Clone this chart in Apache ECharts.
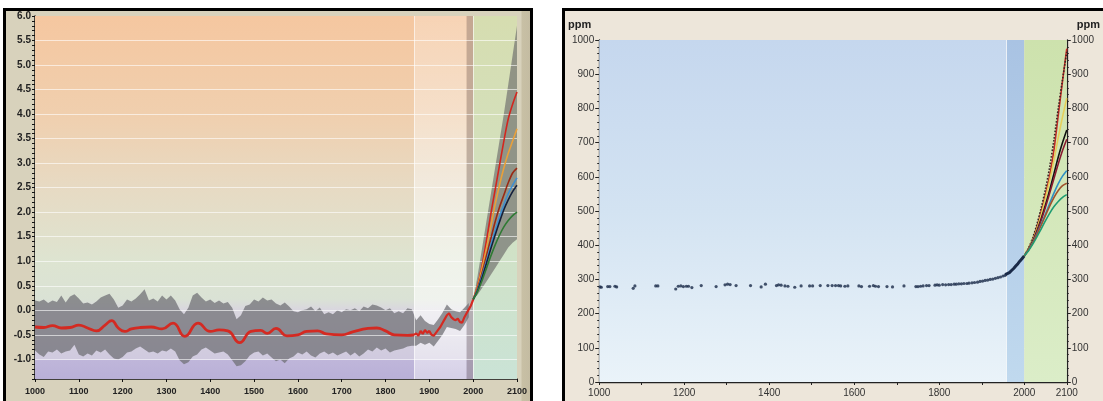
<!DOCTYPE html>
<html>
<head>
<meta charset="utf-8">
<script src="https://cdn.jsdelivr.net/npm/echarts@6/dist/echarts.min.js"></script>
<style>
  html, body { margin: 0; padding: 0; background: #fff; width: 1103px; height: 401px; overflow: hidden; position: relative; }
  #leftBox { position: absolute; left: 3px; top: 8px; width: 524px; height: 400px; border: 3px solid #000;
    background: linear-gradient(to right, #d8d2bc 0, #d8d2bc 515px, #c8c0a5 516px, #c4bca2 524px); }
  #rightBox { position: absolute; left: 562px; top: 8px; width: 548px; height: 400px; border: 3px solid #000; background: #ede6da; }
  #tempChart { width: 524px; height: 390px; }
  #co2Chart { width: 538px; height: 390px; }
</style>
</head>
<body>
<div id="leftBox"><div id="tempChart"></div></div>
<div id="rightBox"><div id="co2Chart"></div></div>
<script>
// ---------- left: temperature anomaly (°C) ----------
// reconstruction band, one value per decade from 1000 to 1990
const bandFirstYear = 1000, bandStep = 10;
const bandUpper = [
  0.20, 0.18, 0.22, 0.15, 0.20, 0.17, 0.30, 0.16, 0.28, 0.33,
  0.24, 0.14, 0.16, 0.12, 0.18, 0.26, 0.30, 0.34, 0.22, 0.05,
  0.10, 0.22, 0.18, 0.24, 0.33, 0.43, 0.20, 0.24, 0.18, 0.30,
  0.22, 0.30, 0.20, 0.02, -0.08, 0.05, 0.30, 0.36, 0.26, 0.18,
  0.22, 0.15, 0.20, 0.14, 0.17, 0.05, -0.18, -0.10, 0.09, 0.12,
  0.22, 0.18, 0.26, 0.20, 0.22, 0.14, 0.10, 0.16, 0.08, -0.02,
  -0.04, 0.00, 0.02, 0.08, -0.02, 0.06, -0.08, -0.04, -0.08, 0.00,
  -0.04, 0.02, 0.00, 0.04, -0.02, 0.08, 0.04, 0.12, 0.10, 0.06,
  0.00, 0.04, -0.06, -0.02, -0.06, 0.04, 0.02, -0.20, -0.10, -0.22,
  -0.28, -0.30, -0.18, -0.05, 0.12, 0.02, -0.02, -0.04, 0.05, 0.15
];
const bandLower = [
  -0.82, -0.90, -0.95, -0.84, -0.86, -0.80, -0.88, -0.84, -0.82, -0.70,
  -0.90, -0.94, -0.88, -0.92, -0.82, -0.86, -0.80, -0.90, -0.98, -1.00,
  -0.95, -0.86, -0.84, -0.78, -0.74, -0.80, -0.86, -0.84, -0.88, -0.82,
  -0.84, -0.78, -0.84, -1.02, -1.10, -1.06, -0.94, -0.90, -0.80, -0.76,
  -0.82, -0.88, -0.86, -0.84, -0.90, -1.02, -1.14, -1.12, -1.04, -0.92,
  -0.86, -0.84, -0.92, -0.88, -0.96, -1.04, -1.00, -1.08, -0.98, -0.94,
  -0.86, -0.90, -0.84, -0.92, -0.96, -0.88, -0.84, -0.90, -0.86, -0.92,
  -0.88, -0.84, -0.92, -0.86, -0.94, -0.88, -0.80, -0.84, -0.76, -0.82,
  -0.78, -0.86, -0.82, -0.80, -0.78, -0.74, -0.72, -0.72, -0.66, -0.70,
  -0.66, -0.74, -0.62, -0.50, -0.34, -0.36, -0.38, -0.42, -0.30, -0.14
];
// smoothed proxy reconstruction (red)
const proxyYears = [1000,1020,1040,1060,1080,1100,1120,1140,1160,1175,1190,1205,1220,1240,1265,1290,1315,1342,1372,1400,
  1420,1440,1467,1493,1515,1530,1550,1575,1600,1620,1645,1665,1700,1725,1760,1780,1800,1820,1850,1865];
const proxyTemps = [-0.34,-0.35,-0.31,-0.36,-0.35,-0.30,-0.36,-0.42,-0.30,-0.21,-0.36,-0.43,-0.38,-0.35,-0.34,-0.38,-0.26,-0.53,-0.26,-0.43,
  -0.40,-0.42,-0.66,-0.43,-0.41,-0.47,-0.37,-0.52,-0.50,-0.43,-0.42,-0.48,-0.50,-0.44,-0.37,-0.36,-0.42,-0.50,-0.51,-0.50];
// instrumental record (red, jagged)
const instYears = [1865,1870,1875,1880,1885,1890,1895,1900,1905,1910,1915,1920,1925,1930,1935,1940,1945,1950,1955,1960,1965,1970,1975,1980,1985,1990,1995,2000];
const instTemps = [-0.50,-0.47,-0.52,-0.42,-0.48,-0.40,-0.46,-0.42,-0.50,-0.52,-0.46,-0.40,-0.34,-0.26,-0.18,-0.10,-0.06,-0.14,-0.18,-0.20,-0.17,-0.24,-0.25,-0.14,-0.06,0.02,0.10,0.22];
// projections 2000-2100
const projYears = [2000,2010,2020,2030,2040,2050,2060,2070,2080,2090,2100];
const fanLower = [0.22,0.32,0.45,0.58,0.72,0.86,1.00,1.14,1.28,1.38,1.45];
const fanUpper = [0.22,0.70,1.25,1.80,2.35,2.90,3.45,4.00,4.60,5.20,5.80];
const tempScenarios = [
  { name: 'red',    color: '#d3261e', values: [0.22,0.50,0.90,1.40,1.95,2.45,2.95,3.45,3.90,4.20,4.45] },
  { name: 'orange', color: '#e9a03a', values: [0.22,0.48,0.85,1.25,1.70,2.15,2.55,2.90,3.20,3.45,3.70] },
  { name: 'brown',  color: '#9a2a14', values: [0.22,0.45,0.75,1.10,1.45,1.80,2.10,2.35,2.60,2.80,2.90] },
  { name: 'blue',   color: '#3f8fd0', values: [0.22,0.42,0.70,1.00,1.32,1.62,1.90,2.15,2.38,2.55,2.70] },
  { name: 'navy',   color: '#14203c', values: [0.22,0.40,0.66,0.95,1.25,1.53,1.80,2.05,2.25,2.42,2.55] },
  { name: 'green',  color: '#2f7a34', values: [0.22,0.38,0.60,0.85,1.10,1.33,1.53,1.70,1.83,1.93,2.00] }
];
const tempGridLevels = [-1.0,-0.5,0.0,0.5,1.0,1.5,2.0,2.5,3.0,3.5,4.0,4.5,5.0,5.5];

// ---------- right: CO2 (ppm) ----------
const co2Years = [1002,1005,1020,1025,1037,1041,1080,1084,1133,1138,1180,1186,1192,1198,1205,1210,1218,1240,1275,1296,
  1302,1308,1322,1356,1381,1391,1417,1422,1428,1437,1444,1460,1475,1495,1502,1520,1538,1548,1556,1563,
  1568,1578,1585,1611,1617,1636,1645,1650,1657,1677,1690,1717,1745,1750,1756,1762,1770,1776,1790,1795,
  1800,1808,1815,1822,1828,1835,1840,1846,1852,1858,1865,1870,1877,1883,1890,1896,1902,1908,1914,1920,
  1926,1932,1938,1944,1950,1955];
const co2Ppm = [278,277,279,279,280,278,274,281,281,281,272,280,281,279,280,280,276,282,279,284,
  286,285,282,282,278,286,282,284,283,281,280,277,281,281,281,282,282,282,282,282,
  281,280,281,281,279,280,282,280,279,279,278,281,279,279,280,281,282,282,283,284,
  283,285,284,285,285,286,286,287,287,288,288,289,290,291,292,294,295,297,298,300,
  301,303,305,307,310,312];
const recentYears = [1955,1960,1965,1970,1975,1980,1985,1990,1995,2000];
const recentPpm = [314,317,320,326,332,339,346,354,361,369];
const co2Scenarios = [
  { name: 'red',     color: '#c22d26', type: 'solid',  values: [369,390,418,455,500,550,605,680,780,880,975] },
  { name: 'dotted',  color: '#3a2424', type: 'dotted', values: [369,392,422,462,510,565,630,710,800,885,965] },
  { name: 'yellow',  color: '#e6cf5a', type: 'solid',  values: [369,389,415,448,490,538,590,650,715,775,830] },
  { name: 'black',   color: '#111111', type: 'solid',  values: [369,388,412,442,478,518,562,610,658,700,737] },
  { name: 'darkred', color: '#8a1a30', type: 'solid',  values: [369,387,410,440,474,512,553,596,638,677,710] },
  { name: 'teal',    color: '#2f8fc4', type: 'solid',  values: [369,386,408,434,462,492,523,553,580,602,618] },
  { name: 'brown',   color: '#a0522d', type: 'solid',  values: [369,386,407,432,459,487,515,540,560,574,581] },
  { name: 'green',   color: '#1f9c72', type: 'solid',  values: [369,384,403,425,448,472,494,513,528,540,548] }
];

const pairs = (xs, ys) => xs.map((x, i) => [x, ys[i]]);
const grad = stops => new echarts.graphic.LinearGradient(0, 0, 0, 1, stops.map(s => ({ offset: s[0], color: s[1] })));
const font = 'Liberation Sans, Arial, sans-serif';

// ---------------- left chart ----------------
const tempChart = echarts.init(document.getElementById('tempChart'));
const bandYears = bandLower.map((v, i) => bandFirstYear + i * bandStep);
const isHalf = v => Math.abs(v * 2 - Math.round(v * 2)) < 1e-6;

// jagged band outline (one polygon through the axis scales)
function bandPolygon(params, api) {
  const pts = bandYears.map((y, i) => api.coord([y, bandUpper[i]]));
  for (let i = bandYears.length - 1; i >= 0; i--) pts.push(api.coord([bandYears[i], bandLower[i]]));
  return { type: 'polygon', shape: { points: pts }, style: { fill: 'rgba(112,112,118,0.74)' } };
}
function fanPolygon(params, api) {
  const pts = projYears.map((y, i) => api.coord([y, fanUpper[i]]));
  for (let i = projYears.length - 1; i >= 0; i--) pts.push(api.coord([projYears[i], fanLower[i]]));
  return { type: 'polygon', shape: { points: pts }, style: { fill: 'rgba(115,115,112,0.7)' } };
}

const tempSeries = [
  {
    type: 'line', symbol: 'none', z: 1, silent: true, lineStyle: { width: 0 },
    data: [[1000, 0]],
    markArea: {
      silent: true,
      data: [
        [{ xAxis: 1000, yAxis: 6, itemStyle: { color: grad([[0, '#f5c7a0'], [0.27, '#f0cfae'], [0.47, '#e7dac3'], [0.68, '#dde4d1'], [0.78, '#dae2d5'], [0.81, '#d9d6df'], [0.945, '#d0cadf'], [0.947, '#bfb6da'], [1, '#b9b0d7']]) } }, { xAxis: 2000, yAxis: -1.4 }],
        [{ xAxis: 1865, yAxis: 6, itemStyle: { color: grad([[0, 'rgba(255,255,255,0.22)'], [0.6, 'rgba(255,255,255,0.5)'], [0.82, 'rgba(255,255,255,0.6)'], [1, 'rgba(255,255,255,0.4)']]) } }, { xAxis: 1985, yAxis: -1.4 }],
        [{ xAxis: 1985, yAxis: 6, itemStyle: { color: 'rgba(140,128,128,0.45)' } }, { xAxis: 2000, yAxis: -1.4 }],
        [{ xAxis: 2000, yAxis: 6, itemStyle: { color: grad([[0, '#d6ddb0'], [0.5, '#d3e1c0'], [1, '#cae3d6']]) } }, { xAxis: 2100, yAxis: -1.4 }]
      ]
    }
  },
  { type: 'custom', z: 3, silent: true, data: [[1000, 0]], renderItem: bandPolygon },
  { type: 'custom', z: 3, silent: true, data: [[2000, 0]], renderItem: fanPolygon },
  {
    type: 'line', symbol: 'none', z: 4, silent: true, lineStyle: { width: 0 }, data: [[1000, 0]],
    markLine: {
      silent: true, symbol: 'none', label: { show: false },
      lineStyle: { color: 'rgba(255,255,255,0.6)', width: 1, type: 'solid' },
      data: tempGridLevels.map(v => ({ yAxis: v })).concat([{ xAxis: 1865 }, { xAxis: 2000 }])
    }
  }
];
tempScenarios.forEach(s => tempSeries.push({
  type: 'line', symbol: 'none', smooth: 0.3, z: 8, silent: true,
  lineStyle: { color: s.color, width: 1.6 }, data: pairs(projYears, s.values)
}));
tempSeries.push({
  type: 'line', symbol: 'none', smooth: 0.5, z: 10, silent: true,
  lineStyle: { color: '#d42a22', width: 2.8 }, data: pairs(proxyYears, proxyTemps)
});
tempSeries.push({
  type: 'line', symbol: 'none', z: 10, silent: true,
  lineStyle: { color: '#d42a22', width: 2.2 }, data: pairs(instYears, instTemps)
});

tempChart.setOption({
  animation: false,
  grid: { left: 29, top: 2, width: 487, height: 366 },
  xAxis: {
    type: 'value', min: 1000, max: 2100, interval: 100,
    axisLine: { onZero: false, lineStyle: { color: '#111', width: 1.5 } },
    axisTick: { length: 3, lineStyle: { color: '#111' } },
    axisLabel: { fontSize: 9, fontWeight: 'bold', color: '#222', margin: 8, fontFamily: font, formatter: v => String(v) },
    splitLine: { show: false }
  },
  yAxis: {
    type: 'value', min: -1.4, max: 6, interval: 0.1,
    axisLine: { show: true, lineStyle: { color: '#111', width: 1.5 } },
    axisTick: { show: true, length: 3, lineStyle: { color: '#111' } },
    axisLabel: { formatter: v => isHalf(v) ? v.toFixed(1) : '', fontSize: 10, fontWeight: 'bold', color: '#222', margin: 4, fontFamily: font },
    splitLine: { show: false }
  },
  series: tempSeries
});

// ---------------- right chart ----------------
const co2Chart = echarts.init(document.getElementById('co2Chart'));
const ppmAxis = (pos) => ({
  type: 'value', min: 0, max: 1000, interval: 100, position: pos,
  name: 'ppm', nameLocation: 'end', nameGap: 10,
  nameTextStyle: { fontSize: 11, fontWeight: 'bold', color: '#222', fontFamily: font,
    align: pos === 'left' ? 'right' : 'left', padding: pos === 'left' ? [0, 8, 0, 0] : [0, 0, 0, 10] },
  axisLine: { show: true, lineStyle: { color: '#222', width: 1.3 } },
  axisTick: { show: true, length: 4, lineStyle: { color: '#222' } },
  minorTick: { show: true, splitNumber: 5, length: 2, lineStyle: { color: '#222' } },
  axisLabel: { fontSize: 10, color: '#333', margin: 5, fontFamily: font, formatter: v => String(v) },
  splitLine: { show: pos === 'left', lineStyle: { color: 'rgba(255,255,255,0.55)', width: 1 } }
});
const co2Series = [
  {
    type: 'scatter', symbolSize: 3.2, z: 6, silent: true,
    itemStyle: { color: '#1a2a48' }, data: pairs(co2Years, co2Ppm),
    markArea: {
      silent: true,
      data: [
        [{ xAxis: 1000, yAxis: 1000, itemStyle: { color: grad([[0, '#c5d7ee'], [0.5, '#d3e3f2'], [1, '#eaf3f9']]) } }, { xAxis: 1958, yAxis: 0 }],
        [{ xAxis: 1958, yAxis: 1000, itemStyle: { color: grad([[0, '#a9c3e3'], [1, '#c0d9ee']]) } }, { xAxis: 2000, yAxis: 0 }],
        [{ xAxis: 2000, yAxis: 1000, itemStyle: { color: grad([[0, '#cde2ad'], [1, '#dbedc8']]) } }, { xAxis: 2100, yAxis: 0 }]
      ]
    },
    markLine: {
      silent: true, symbol: 'none', label: { show: false },
      lineStyle: { color: 'rgba(255,255,255,0.7)', width: 1, type: 'solid' },
      data: [{ xAxis: 1958 }]
    }
  },
  {
    type: 'line', symbol: 'none', z: 7, silent: true,
    lineStyle: { color: '#1a2a48', width: 3 }, data: pairs(recentYears, recentPpm)
  }
];
co2Scenarios.forEach(s => co2Series.push({
  type: 'line', symbol: 'none', smooth: 0.3, z: 8, silent: true,
  lineStyle: { color: s.color, width: 1.6, type: s.type }, data: pairs(projYears, s.values)
}));

co2Chart.setOption({
  animation: false,
  grid: { left: 26, top: 29, width: 479, height: 342 },
  xAxis: {
    type: 'value', min: 1000, max: 2100, interval: 100,
    axisLine: { onZero: false, lineStyle: { color: '#222', width: 1.3 } },
    axisTick: { length: 3, lineStyle: { color: '#222' } },
    axisLabel: { fontSize: 10, color: '#333', margin: 6, fontFamily: font,
      formatter: v => (v % 200 === 0 || v === 2100) ? String(v) : '' },
    splitLine: { show: false }
  },
  yAxis: [ppmAxis('left'), ppmAxis('right')],
  series: co2Series
});
</script>
</body>
</html>
